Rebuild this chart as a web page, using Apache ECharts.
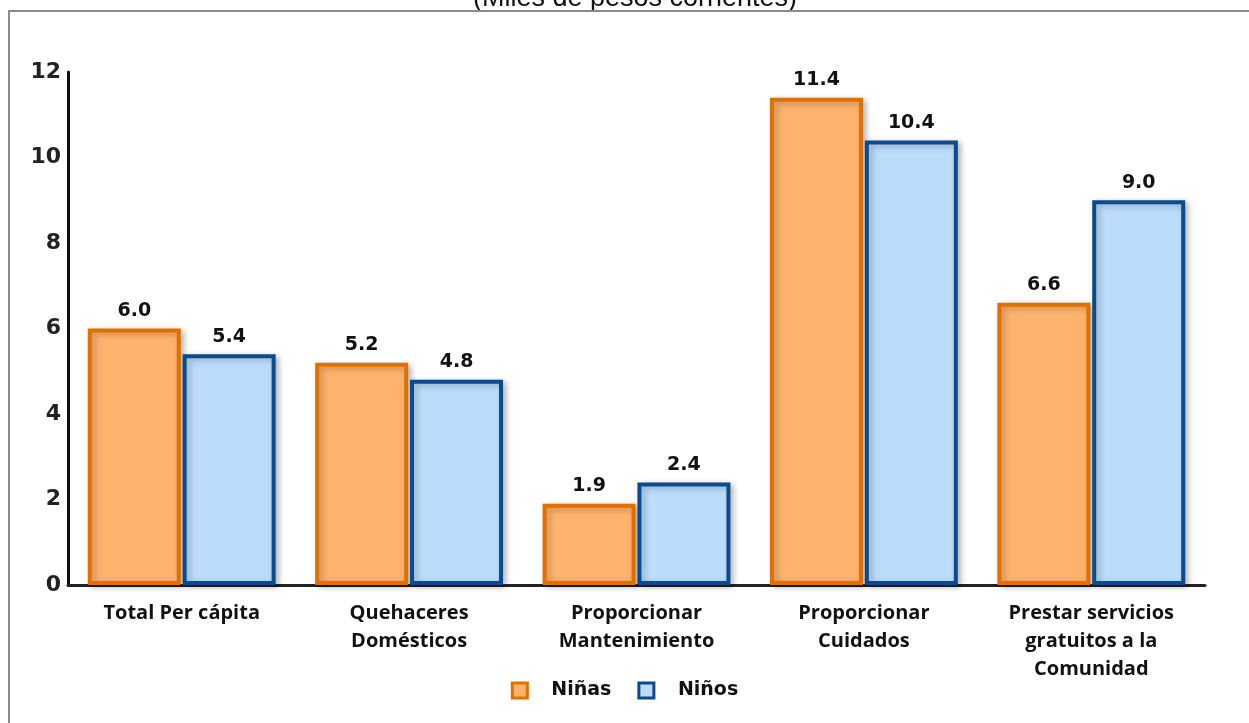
<!DOCTYPE html>
<html><head><meta charset="utf-8">
<script src="https://cdn.jsdelivr.net/npm/echarts@6/dist/echarts.min.js"></script>
<style>html,body{margin:0;padding:0;background:#fff}#c{width:1249px;height:723px}</style>
</head><body><div id="c"></div>
<script>
const categories = ['Total Per cápita', 'Quehaceres\nDomésticos', 'Proporcionar\nMantenimiento', 'Proporcionar\nCuidados', 'Prestar servicios\ngratuitos a la\nComunidad'];
const ninas = [6.0, 5.2, 1.9, 11.4, 6.6];
const ninos = [5.4, 4.8, 2.4, 10.4, 9.0];
const yTicks = [0, 2, 4, 6, 8, 10, 12];

const chart = echarts.init(document.getElementById('c'), null, {renderer: 'canvas'});
const labelStyle = {show: true, position: 'top', distance: 8, formatter: p => p.value.toFixed(1), fontFamily: '"DejaVu Sans", sans-serif', fontWeight: 'bold', fontSize: 19, color: '#111'};
chart.setOption({
  animation: false,
  backgroundColor: '#fff',
  graphic: [
    {type: 'rect', shape: {x: 9, y: 11, width: 1300, height: 800}, style: {fill: 'none', stroke: '#8a8a8a', lineWidth: 2}, z: 10},
    {type: 'text', x: 635, y: -1, style: {text: '(Miles de pesos corrientes)', font: '27px "Liberation Sans", Arial', fill: '#111', align: 'center', verticalAlign: 'middle'}, z: 5}
  ],
  legend: {
    bottom: 18, left: 'center', itemWidth: 15, itemHeight: 15, itemGap: 26,
    textStyle: {fontFamily: '"DejaVu Sans", sans-serif', fontWeight: 'bold', fontSize: 19, color: '#111', padding: [0, 0, 0, 19]},
    data: [
      {name: 'Niñas', icon: 'rect', itemStyle: {color: '#FDB36E', borderColor: '#E07000', borderWidth: 3}},
      {name: 'Niños', icon: 'rect', itemStyle: {color: '#BBDCFA', borderColor: '#0B4A8C', borderWidth: 3}}
    ]
  },
  grid: {left: 68, right: 44, top: 72, bottom: 138},
  xAxis: {
    type: 'category', data: categories,
    axisLine: {lineStyle: {color: '#222', width: 3}},
    axisTick: {show: false},
    axisLabel: {margin: 14, fontFamily: '"Open Sans", Lato, sans-serif', fontWeight: 'bold', fontSize: 20, lineHeight: 28, color: '#111', interval: 0}
  },
  yAxis: {
    type: 'value', min: 0, max: 12, interval: 2,
    axisLine: {show: true, lineStyle: {color: '#111', width: 3}},
    axisTick: {show: false},
    splitLine: {show: false},
    axisLabel: {margin: 7, fontFamily: '"DejaVu Sans", sans-serif', fontWeight: 'bold', fontSize: 22, color: '#222',
      formatter: v => yTicks.includes(v) ? String(v) : ''}
  },
  series: [
    {name: 'Niñas', type: 'bar', data: ninas, barWidth: 93, barGap: '2%',
      itemStyle: {color: '#FDB36E', borderColor: '#E07000', borderWidth: 4, shadowBlur: 6, shadowColor: 'rgba(0,0,0,0.25)', shadowOffsetX: 3, shadowOffsetY: 2},
      label: labelStyle},
    {name: 'Niños', type: 'bar', data: ninos, barWidth: 93,
      itemStyle: {color: '#BBDCFA', borderColor: '#0B4A8C', borderWidth: 4, shadowBlur: 6, shadowColor: 'rgba(0,0,0,0.25)', shadowOffsetX: 3, shadowOffsetY: 2},
      label: labelStyle}
  ]
});
</script></body></html>
